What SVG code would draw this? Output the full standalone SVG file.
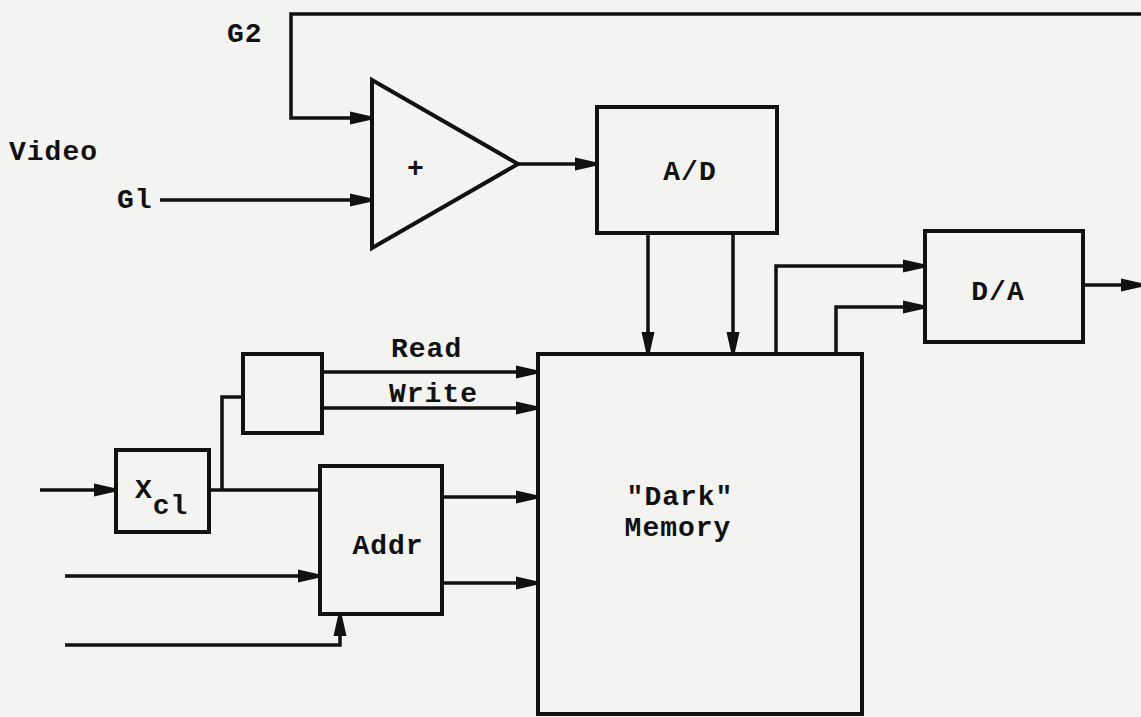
<svg xmlns="http://www.w3.org/2000/svg" width="1141" height="717" viewBox="0 0 1141 717">
<defs>
<marker id="ah" markerUnits="userSpaceOnUse" markerWidth="22" markerHeight="14" refX="20" refY="7" orient="auto">
<path d="M0,0.5 L20,5 L20,9 L0,13.5 Z" fill="#111"/>
</marker>
</defs>
<style>
.bx{fill:none;stroke:#111;stroke-width:4;stroke-linejoin:miter}
.ln{fill:none;stroke:#111;stroke-width:3.5}
.t{font-family:"Liberation Mono","DejaVu Sans Mono",monospace;font-weight:bold;font-size:28px;letter-spacing:1px;fill:#111}
</style>
<rect width="1141" height="717" fill="#f3f3f1"/>
<g id="connectors">
<polyline class="ln" points="1141,14 291,14 291,118 370,118" marker-end="url(#ah)"/>
<line class="ln" x1="160" y1="200" x2="370" y2="200" marker-end="url(#ah)"/>
<line class="ln" x1="518" y1="164" x2="595" y2="164" marker-end="url(#ah)"/>
<line class="ln" x1="648" y1="233" x2="648" y2="352" marker-end="url(#ah)"/>
<line class="ln" x1="733" y1="233" x2="733" y2="352" marker-end="url(#ah)"/>
<polyline class="ln" points="776,354 776,266 923,266" marker-end="url(#ah)"/>
<polyline class="ln" points="836,354 836,307 923,307" marker-end="url(#ah)"/>
<line class="ln" x1="1083" y1="285" x2="1141" y2="285" marker-end="url(#ah)"/>
<line class="ln" x1="322" y1="372" x2="536" y2="372" marker-end="url(#ah)"/>
<line class="ln" x1="322" y1="408" x2="536" y2="408" marker-end="url(#ah)"/>
<line class="ln" x1="40" y1="490" x2="114" y2="490" marker-end="url(#ah)"/>
<line class="ln" x1="209" y1="490" x2="320" y2="490"/>
<polyline class="ln" points="222,490 222,397 243,397"/>
<line class="ln" x1="442" y1="497" x2="536" y2="497" marker-end="url(#ah)"/>
<line class="ln" x1="442" y1="583" x2="536" y2="583" marker-end="url(#ah)"/>
<line class="ln" x1="65" y1="576" x2="318" y2="576" marker-end="url(#ah)"/>
<polyline class="ln" points="65,645 340,645 340,616" marker-end="url(#ah)"/>
</g>
<g id="labels">
<text class="t" x="227" y="42">G2</text>
<text class="t" x="9" y="160">Video</text>
<text class="t" x="117" y="208">Gl</text>
<text class="t" x="391" y="357">Read</text>
<text class="t" x="389" y="402">Write</text>
</g>
<g id="adder">
<polygon class="bx" points="372,80 518,164 372,248"/>
<text class="t" x="416" y="177" text-anchor="middle">+</text>
</g>
<g id="ad">
<rect class="bx" x="597" y="107" width="180" height="126"/>
<text class="t" x="690" y="180" text-anchor="middle">A/D</text>
</g>
<g id="da">
<rect class="bx" x="925" y="231" width="158" height="111"/>
<text class="t" x="998" y="300" text-anchor="middle">D/A</text>
</g>
<g id="rw">
<rect class="bx" x="243" y="354" width="79" height="79"/>
</g>
<g id="xcl">
<rect class="bx" x="116" y="450" width="93" height="82"/>
<text class="t" x="135" y="498">X<tspan dy="16">cl</tspan></text>
</g>
<g id="addr">
<rect class="bx" x="320" y="466" width="122" height="148"/>
<text class="t" x="388" y="554" text-anchor="middle">Addr</text>
</g>
<g id="memory">
<rect class="bx" x="538" y="354" width="324" height="360"/>
<text class="t" x="680" y="505" text-anchor="middle">"Dark"</text>
<text class="t" x="678" y="536" text-anchor="middle">Memory</text>
</g>
</svg>
